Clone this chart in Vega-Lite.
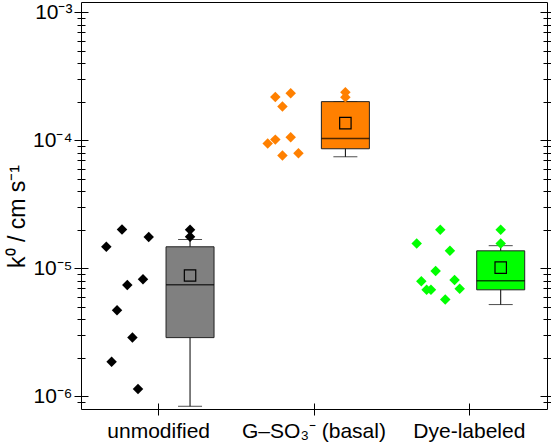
{
  "$schema": "https://vega.github.io/schema/vega-lite/v6.json",
  "width": 466,
  "height": 407,
  "autosize": {"type": "none"},
  "padding": {"left": 81, "top": 2, "right": 4, "bottom": 39},
  "config": {
    "view": {"stroke": "#000", "strokeWidth": 1},
    "font": "Liberation Sans",
    "axis": {"grid": false, "domain": false, "tickColor": "#000", "tickWidth": 1, "labelColor": "#000", "titleColor": "#000", "labelFont": "Liberation Sans", "titleFont": "Liberation Sans"}
  },
  "datasets": {
    "pts": [
      {"group": "unmodified", "k": 2.01e-5, "jitter": -0.236},
      {"group": "unmodified", "k": 1.75e-5, "jitter": -0.064},
      {"group": "unmodified", "k": 1.47e-5, "jitter": -0.337},
      {"group": "unmodified", "k": 7.4e-6, "jitter": -0.202},
      {"group": "unmodified", "k": 8.2e-6, "jitter": -0.101},
      {"group": "unmodified", "k": 4.7e-6, "jitter": -0.268},
      {"group": "unmodified", "k": 2.87e-6, "jitter": -0.169},
      {"group": "unmodified", "k": 1.86e-6, "jitter": -0.303},
      {"group": "unmodified", "k": 1.14e-6, "jitter": -0.133},
      {"group": "G–SO₃⁻ (basal)", "k": 2.17e-4, "jitter": -0.249},
      {"group": "G–SO₃⁻ (basal)", "k": 2.33e-4, "jitter": -0.150},
      {"group": "G–SO₃⁻ (basal)", "k": 1.83e-4, "jitter": -0.203},
      {"group": "G–SO₃⁻ (basal)", "k": 9.4e-5, "jitter": -0.298},
      {"group": "G–SO₃⁻ (basal)", "k": 1.01e-4, "jitter": -0.249},
      {"group": "G–SO₃⁻ (basal)", "k": 1.055e-4, "jitter": -0.150},
      {"group": "G–SO₃⁻ (basal)", "k": 7.6e-5, "jitter": -0.203},
      {"group": "G–SO₃⁻ (basal)", "k": 7.9e-5, "jitter": -0.100},
      {"group": "Dye-labeled", "k": 2.0e-5, "jitter": -0.187},
      {"group": "Dye-labeled", "k": 1.56e-5, "jitter": -0.339},
      {"group": "Dye-labeled", "k": 1.37e-5, "jitter": -0.125},
      {"group": "Dye-labeled", "k": 9.5e-6, "jitter": -0.217},
      {"group": "Dye-labeled", "k": 7.9e-6, "jitter": -0.309},
      {"group": "Dye-labeled", "k": 8.1e-6, "jitter": -0.095},
      {"group": "Dye-labeled", "k": 6.8e-6, "jitter": -0.275},
      {"group": "Dye-labeled", "k": 6.8e-6, "jitter": -0.247},
      {"group": "Dye-labeled", "k": 6.9e-6, "jitter": -0.062},
      {"group": "Dye-labeled", "k": 5.7e-6, "jitter": -0.155}
    ],
    "stats": [
      {"group": "unmodified", "lo": 8.35e-7, "q1": 2.87e-6, "median": 7.42e-6, "q3": 1.47e-5, "hi": 1.675e-5, "mean": 8.77e-6},
      {"group": "G–SO₃⁻ (basal)", "lo": 7.42e-5, "q1": 8.57e-5, "median": 1.03e-4, "q3": 2.0e-4, "hi": 2.0e-4, "mean": 1.36e-4},
      {"group": "Dye-labeled", "lo": 5.2e-6, "q1": 6.78e-6, "median": 7.97e-6, "q3": 1.367e-5, "hi": 1.5e-5, "mean": 1.01e-5}
    ],
    "outliers": [
      {"group": "unmodified", "k": 2.0e-5},
      {"group": "unmodified", "k": 1.76e-5},
      {"group": "G–SO₃⁻ (basal)", "k": 2.37e-4},
      {"group": "G–SO₃⁻ (basal)", "k": 2.16e-4},
      {"group": "Dye-labeled", "k": 2.0e-5},
      {"group": "Dye-labeled", "k": 1.56e-5}
    ]
  },
  "resolve": {"axis": {"x": "independent", "y": "independent"}},
  "encoding": {
    "x": {"field": "group", "type": "nominal", "sort": null,
          "scale": {"domain": ["unmodified", "G–SO₃⁻ (basal)", "Dye-labeled"], "paddingInner": 0, "paddingOuter": 0},
          "axis": null}
  },
  "layer": [
    {
      "data": {"name": "pts"},
      "mark": {"type": "point", "shape": "diamond", "filled": true, "size": 110, "opacity": 1},
      "encoding": {
        "x": {"field": "group", "type": "nominal", "sort": null,
              "scale": {"domain": ["unmodified", "G–SO₃⁻ (basal)", "Dye-labeled"], "paddingInner": 0, "paddingOuter": 0},
              "axis": {"orient": "bottom", "title": null, "offset": -6, "tickSize": 12, "labelFontSize": 21, "labelPadding": 5, "labelAngle": 0}},
        "xOffset": {"field": "jitter", "type": "quantitative", "scale": {"domain": [-0.5, 0.5], "range": [0, 155.33]}},
        "y": {"field": "k", "type": "quantitative",
              "scale": {"type": "log", "domain": [7.95e-7, 1.2e-3], "nice": false},
              "axis": {"orient": "left", "offset": -7, "tickSize": 14, "values": [1e-6, 1e-5, 1e-4, 1e-3],
                       "labelExpr": "datum.value < 5e-6 ? '10⁻⁶' : datum.value < 5e-5 ? '10⁻⁵' : datum.value < 5e-4 ? '10⁻⁴' : '10⁻³'",
                       "labelFontSize": 21, "labelPadding": 2,
                       "title": "k⁰ / cm s⁻¹", "titleFontSize": 23, "titleFontWeight": "normal", "titlePadding": 3, "titleY": 214}},
        "color": {"field": "group", "type": "nominal", "legend": null,
                  "scale": {"domain": ["unmodified", "G–SO₃⁻ (basal)", "Dye-labeled"], "range": ["#000000", "#FF8000", "#00FF00"]}}
      }
    },
    {
      "data": {"name": "stats"},
      "mark": {"type": "rule", "color": "#000", "strokeWidth": 1},
      "encoding": {
        "xOffset": {"datum": 0.202, "type": "quantitative", "scale": {"domain": [-0.5, 0.5], "range": [0, 155.33]}},
        "y": {"field": "lo", "type": "quantitative",
              "scale": {"type": "log", "domain": [7.95e-7, 1.2e-3], "nice": false},
              "axis": {"orient": "left", "offset": -4, "tickSize": 8, "labels": false, "title": null,
                       "values": [9e-7, 2e-6, 3e-6, 4e-6, 5e-6, 6e-6, 7e-6, 8e-6, 9e-6, 2e-5, 3e-5, 4e-5, 5e-5, 6e-5, 7e-5, 8e-5, 9e-5, 2e-4, 3e-4, 4e-4, 5e-4, 6e-4, 7e-4, 8e-4, 9e-4]}},
        "y2": {"field": "hi"}
      }
    },
    {
      "data": {"name": "stats"},
      "mark": {"type": "tick", "color": "#000", "size": 24, "thickness": 1},
      "encoding": {
        "xOffset": {"datum": 0.202, "type": "quantitative", "scale": {"domain": [-0.5, 0.5], "range": [0, 155.33]}},
        "y": {"field": "lo", "type": "quantitative",
              "scale": {"type": "log", "domain": [7.95e-7, 1.2e-3], "nice": false},
              "axis": {"orient": "right", "offset": -7, "tickSize": 14, "labels": false, "title": null, "values": [1e-6, 1e-5, 1e-4, 1e-3]}}
      }
    },
    {
      "data": {"name": "stats"},
      "mark": {"type": "tick", "color": "#000", "size": 24, "thickness": 1},
      "encoding": {
        "xOffset": {"datum": 0.202, "type": "quantitative", "scale": {"domain": [-0.5, 0.5], "range": [0, 155.33]}},
        "y": {"field": "hi", "type": "quantitative",
              "scale": {"type": "log", "domain": [7.95e-7, 1.2e-3], "nice": false},
              "axis": {"orient": "right", "offset": -4, "tickSize": 8, "labels": false, "title": null,
                       "values": [9e-7, 2e-6, 3e-6, 4e-6, 5e-6, 6e-6, 7e-6, 8e-6, 9e-6, 2e-5, 3e-5, 4e-5, 5e-5, 6e-5, 7e-5, 8e-5, 9e-5, 2e-4, 3e-4, 4e-4, 5e-4, 6e-4, 7e-4, 8e-4, 9e-4]}}
      }
    },
    {
      "data": {"name": "stats"},
      "mark": {"type": "bar", "width": 48, "stroke": "#222", "strokeWidth": 1},
      "encoding": {
        "xOffset": {"datum": 0.202, "type": "quantitative", "scale": {"domain": [-0.5, 0.5], "range": [0, 155.33]}},
        "y": {"field": "q1", "type": "quantitative",
              "scale": {"type": "log", "domain": [7.95e-7, 1.2e-3], "nice": false}, "axis": null},
        "y2": {"field": "q3"},
        "fill": {"field": "group", "type": "nominal", "legend": null,
                 "scale": {"domain": ["unmodified", "G–SO₃⁻ (basal)", "Dye-labeled"], "range": ["#808080", "#FF8000", "#00FF00"]}}
      }
    },
    {
      "data": {"name": "stats"},
      "mark": {"type": "tick", "color": "#000", "size": 48, "thickness": 1.5},
      "encoding": {
        "xOffset": {"datum": 0.202, "type": "quantitative", "scale": {"domain": [-0.5, 0.5], "range": [0, 155.33]}},
        "y": {"field": "median", "type": "quantitative",
              "scale": {"type": "log", "domain": [7.95e-7, 1.2e-3], "nice": false}, "axis": null}
      }
    },
    {
      "data": {"name": "stats"},
      "mark": {"type": "point", "shape": "square", "filled": false, "size": 130, "color": "#000", "strokeWidth": 1.2, "opacity": 1},
      "encoding": {
        "xOffset": {"datum": 0.202, "type": "quantitative", "scale": {"domain": [-0.5, 0.5], "range": [0, 155.33]}},
        "y": {"field": "mean", "type": "quantitative",
              "scale": {"type": "log", "domain": [7.95e-7, 1.2e-3], "nice": false}, "axis": null}
      }
    },
    {
      "data": {"name": "outliers"},
      "mark": {"type": "point", "shape": "diamond", "filled": true, "size": 110, "opacity": 1},
      "encoding": {
        "xOffset": {"datum": 0.202, "type": "quantitative", "scale": {"domain": [-0.5, 0.5], "range": [0, 155.33]}},
        "y": {"field": "k", "type": "quantitative",
              "scale": {"type": "log", "domain": [7.95e-7, 1.2e-3], "nice": false}, "axis": null},
        "color": {"field": "group", "type": "nominal", "legend": null,
                  "scale": {"domain": ["unmodified", "G–SO₃⁻ (basal)", "Dye-labeled"], "range": ["#000000", "#FF8000", "#00FF00"]}}
      }
    }
  ]
}
